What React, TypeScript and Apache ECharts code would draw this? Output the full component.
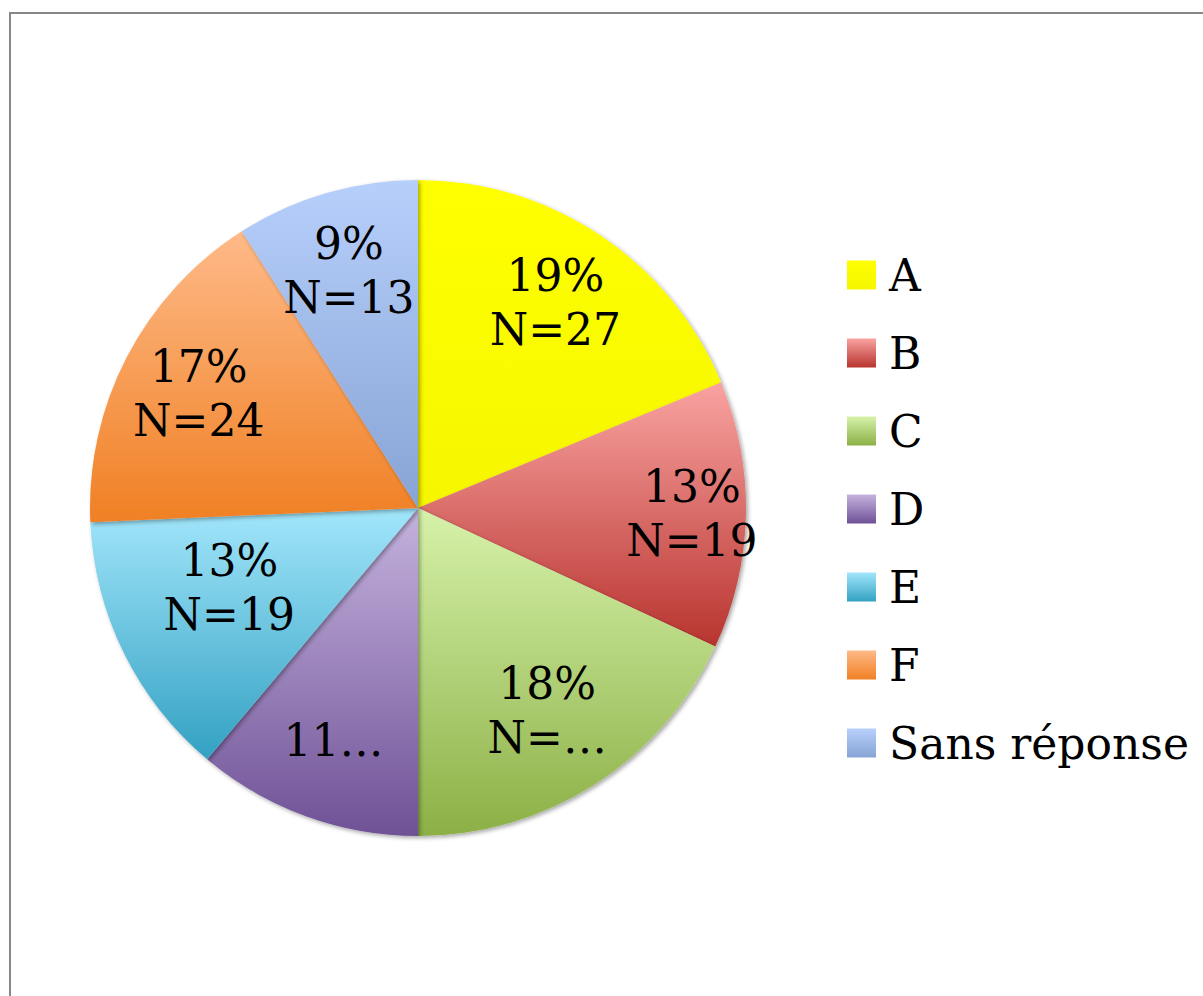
import React, { useEffect, useRef } from "react";
import * as echarts from "echarts";

const categories = ["A", "B", "C", "D", "E", "F", "Sans réponse"];
const values = [27, 19, 26, 16, 19, 24, 13];
const sliceLabels = ["19%\nN=27", "13%\nN=19", "18%\nN=…", "11…", "13%\nN=19", "17%\nN=24", "9%\nN=13"];
const topColors = ["#ffff00", "#f9a3a1", "#d6f2aa", "#c5b3de", "#a2e6fb", "#feba88", "#b7cffb"];
const bottomColors = ["#f6f600", "#b8342f", "#8cb046", "#6f5196", "#33a1c2", "#f08024", "#87a4d5"];

const grad = (i: number) =>
  new echarts.graphic.LinearGradient(0, 0, 0, 1, [
    { offset: 0, color: topColors[i] },
    { offset: 1, color: bottomColors[i] },
  ]);

export default function App() {
  const ref = useRef<HTMLDivElement>(null);
  useEffect(() => {
    const chart = echarts.init(ref.current!, null, { renderer: "svg" });
    const CX = 418;
    const CY = 508;
    const R = 328;
    const font = "DejaVu Serif";
    // radial push of each inside label relative to the default mid-radius placement
    const push: Record<number, number> = { 1: 0.64, 2: 0.44, 4: 0.26 };
    chart.setOption({
      animation: false,
      backgroundColor: "#ffffff",
      graphic: [
        {
          type: "rect",
          shape: { x: 10, y: 13, width: 1400, height: 1200 },
          style: { fill: "none", stroke: "#878787", lineWidth: 2 },
          silent: true,
        },
      ],
      legend: {
        orient: "vertical",
        left: 842,
        top: 248,
        itemWidth: 29,
        itemHeight: 29,
        itemGap: 34,
        icon: "rect",
        data: categories,
        textStyle: {
          fontFamily: font,
          fontSize: 44,
          color: "#000",
          padding: [0, 0, 0, 8],
        },
      },
      series: [
        {
          type: "pie",
          center: [CX, CY],
          radius: [0, R],
          startAngle: 90,
          clockwise: true,
          avoidLabelOverlap: false,
          itemStyle: {
            borderWidth: 0,
            shadowBlur: 4,
            shadowColor: "rgba(0,0,0,0.35)",
            shadowOffsetX: 2,
            shadowOffsetY: 2,
          },
          emphasis: { disabled: true },
          label: {
            show: true,
            position: "inside",
            fontFamily: font,
            fontSize: 44,
            lineHeight: 54,
            color: "#000",
            align: "center",
          },
          labelLine: { show: false },
          labelLayout: (p: any) => {
            const lx = p.labelRect.x + p.labelRect.width / 2;
            const ly = p.labelRect.y + p.labelRect.height / 2;
            const f = push[p.dataIndex] ?? 0.48;
            return { dx: (lx - CX) * f, dy: (ly - CY) * f - (p.dataIndex === 4 ? 14 : 0) };
          },
          data: categories.map((name, i) => ({
            name,
            value: values[i],
            itemStyle: { color: grad(i) },
            label: { formatter: sliceLabels[i] },
          })),
        },
      ],
    });
    return () => chart.dispose();
  }, []);
  return (
    <div
      ref={ref}
      style={{ position: "fixed", left: 0, top: 0, width: 1203, height: 996 }}
    />
  );
}
